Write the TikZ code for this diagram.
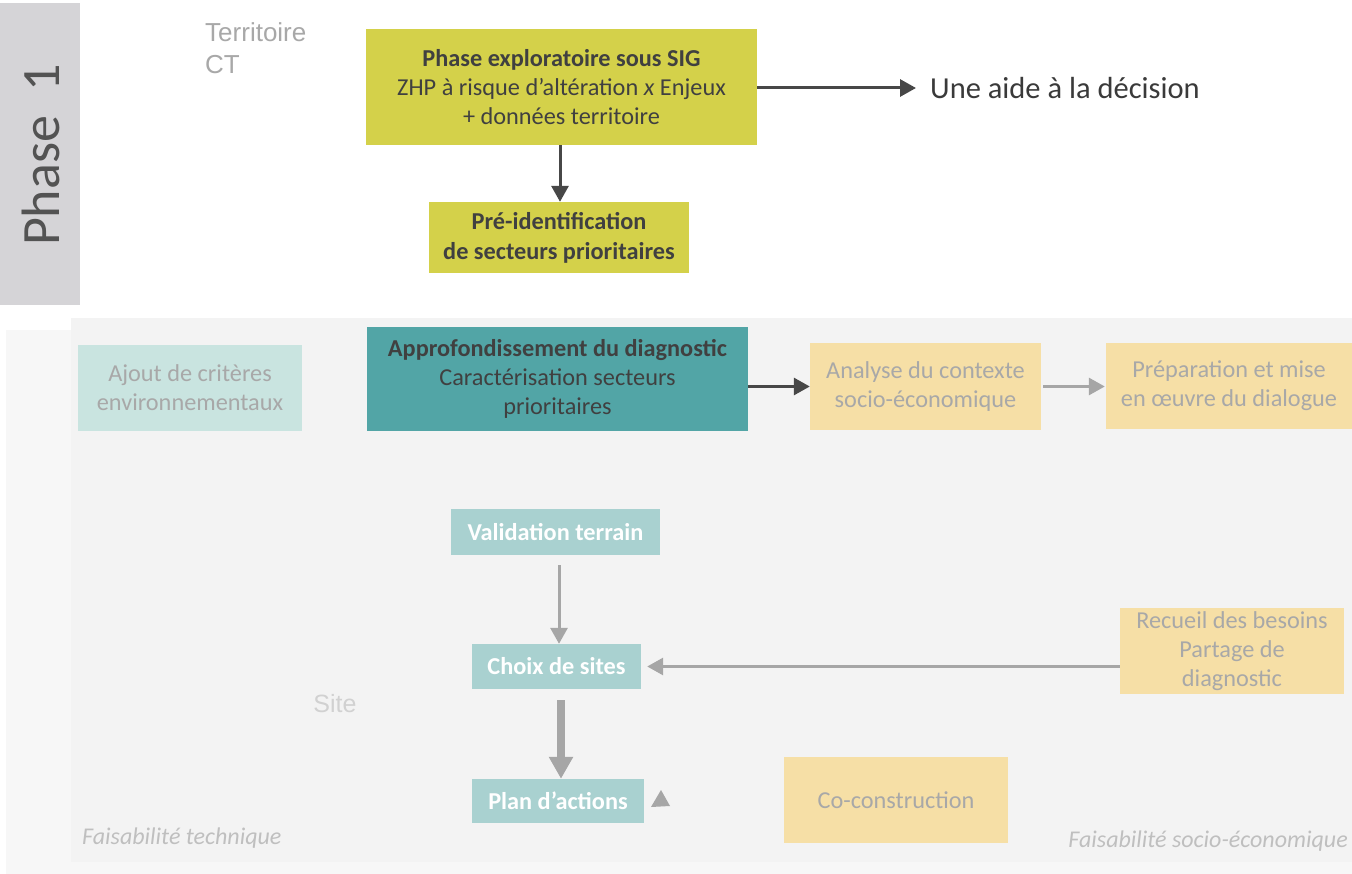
\documentclass[tikz,border=0pt]{standalone}
\usepackage{fontspec}
\setmainfont{Carlito}
\newfontfamily\arialf{Liberation Sans}
\usetikzlibrary{arrows.meta}
\definecolor{bgouter}{HTML}{F7F7F7}
\definecolor{bginner}{HTML}{F3F3F3}
\definecolor{phasegray}{HTML}{D5D4D7}
\definecolor{olive}{HTML}{D4D14A}
\definecolor{tealdark}{HTML}{52A5A6}
\definecolor{tealpale}{HTML}{C9E4E0}
\definecolor{tealmid}{HTML}{A9D1D0}
\definecolor{sand}{HTML}{F6DFA6}
\definecolor{txtdark}{HTML}{404040}
\definecolor{txtgray}{HTML}{A8A8A8}
\definecolor{arrgray}{HTML}{A6A6A6}
\definecolor{arrdark}{HTML}{474747}
\tikzset{
  box/.style={inner sep=0pt, align=center, font=\fontsize{24.3}{29}\selectfont},
  darkbox/.style={box, text=txtdark},
  palebox/.style={box, text=txtgray},
  whitebox/.style={box, text=white, font=\fontsize{24.3}{29}\selectfont\bfseries},
  darkarrow/.style={draw=arrdark, line width=3pt, -{Triangle[length=16pt,width=17pt]}},
  grayarrow/.style={draw=arrgray, line width=3pt, -{Triangle[length=16pt,width=17pt]}},
  thickarrow/.style={draw=arrgray, line width=8pt, -{Triangle[length=22pt,width=23pt]}},
}
\begin{document}
\begin{tikzpicture}[x=1pt,y=-1pt]
\useasboundingbox (0,0) rectangle (1352,874);
\fill[white] (0,0) rectangle (1352,874);
\fill[bgouter] (6,330) rectangle (1352,874);
\fill[bginner] (71,318) rectangle (1352,862);
% Phase 1 band
\fill[phasegray] (0,3) rectangle (80,305);
\node[rotate=90, text=txtdark!90, font=\fontsize{54}{60}\selectfont] (phase) at (41,155) {Phase\ \ 1};
% Territoire
\node[anchor=north west, align=left, inner sep=0pt, text=txtgray, font=\arialf\fontsize{26}{32}\selectfont] (terr) at (205,22) {Territoire\\CT};
% top row
\node[darkbox, fill=olive, minimum width=391pt, minimum height=116pt] (sig) at (561.5,87)
  {\textbf{Phase exploratoire sous SIG}\\ZHP à risque d’altération \textit{x} Enjeux\\+ données territoire};
\node[darkbox, fill=olive, minimum width=260pt, minimum height=71pt, font=\fontsize{24.3}{30}\selectfont\bfseries] (pre) at (559,237.5)
  {Pré-identification\\de secteurs prioritaires};
\node[anchor=west, inner sep=0pt, text=txtdark!90!black, font=\fontsize{30.5}{34}\selectfont] (aide) at (930,88) {Une aide à la décision};
\draw[darkarrow, shorten >=14pt] (sig.east |- aide.west) -- (aide.west);
\draw[darkarrow] (sig.south -| 560,0) -- (pre.north -| 560,0);
% second row
\node[darkbox, fill=tealdark, minimum width=381pt, minimum height=104pt] (appro) at (557.5,379)
  {\textbf{Approfondissement du diagnostic}\\Caractérisation secteurs\\prioritaires};
\node[palebox, fill=tealpale, minimum width=224pt, minimum height=86pt] (ajout) at (190,388)
  {Ajout de critères\\environnementaux};
\node[palebox, fill=sand, minimum width=231pt, minimum height=87pt] (analyse) at (925.5,386.5)
  {Analyse du contexte\\socio-économique};
\node[palebox, fill=sand, minimum width=246pt, minimum height=86pt] (prep) at (1229,386)
  {Préparation et mise\\en œuvre du dialogue};
\draw[darkarrow] (appro.east |- analyse.west) -- (analyse.west);
\draw[grayarrow] ([xshift=2pt]analyse.east) -- ([xshift=-1pt]analyse.east -| prep.west);
% site part
\node[whitebox, fill=tealmid, minimum width=209pt, minimum height=46pt] (valid) at (555.5,532) {Validation terrain};
\node[whitebox, fill=tealmid, minimum width=169pt, minimum height=45pt] (choix) at (556.5,666.5) {Choix de sites};
\node[whitebox, fill=tealmid, minimum width=172pt, minimum height=44pt] (plan) at (558,801) {Plan d’actions};
\node[palebox, fill=sand, minimum width=224pt, minimum height=86pt] (recueil) at (1232,651)
  {Recueil des besoins\\Partage de\\diagnostic};
\node[palebox, fill=sand, minimum width=224pt, minimum height=86pt] (cocon) at (896,800) {Co-construction};
\draw[grayarrow] ([xshift=3.5pt,yshift=-10pt]valid.south) -- ([xshift=3.5pt]valid.south |- choix.north);
\draw[grayarrow] (recueil.west |- choix.east) -- ([xshift=6pt]choix.east);
\draw[thickarrow] ([xshift=4.5pt,yshift=-11pt]choix.south) -- ([xshift=4.5pt]choix.south |- plan.north);
\fill[arrgray] (651,807) -- (661,790) -- (670,806) -- cycle;
\node[inner sep=0pt, text=black!18, font=\arialf\fontsize{25}{28}\selectfont] (site) at (335,704) {Site};
\node[anchor=west, inner sep=0pt, text=black!25, font=\fontsize{24}{28}\selectfont\itshape] (ftech) at (82,838) {Faisabilité technique};
\node[anchor=east, inner sep=0pt, text=black!25, font=\fontsize{24}{28}\selectfont\itshape] (fsoc) at (1348,841) {Faisabilité socio-économique};
\end{tikzpicture}
\end{document}
